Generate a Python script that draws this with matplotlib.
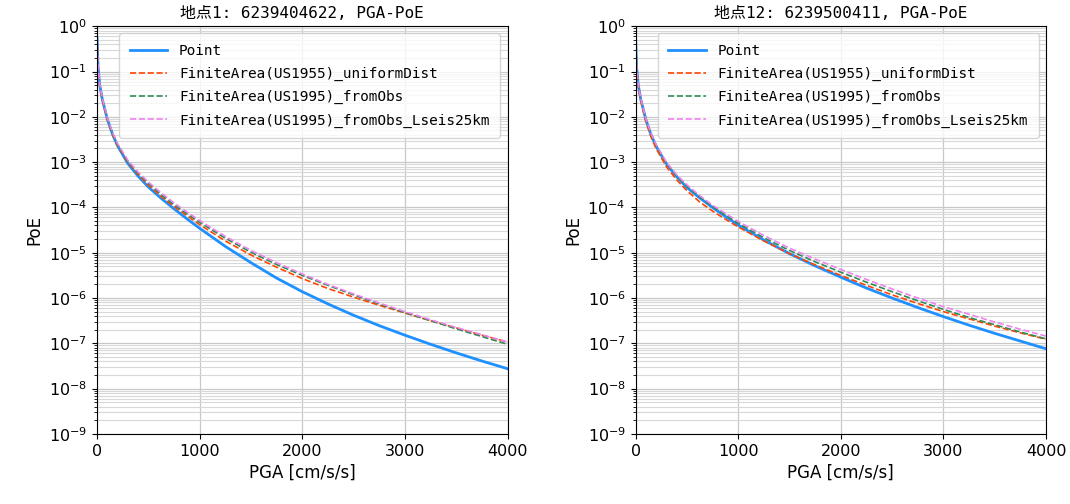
import numpy as np
import matplotlib
matplotlib.use("Agg")
import matplotlib.pyplot as plt
from matplotlib.ticker import LogLocator, NullFormatter

# PGA grid [cm/s/s] the curves were read at
pga = [0, 10, 25, 50, 100, 150, 200, 300, 400, 500, 625, 750, 875, 1000, 1250, 1500,
       1750, 2000, 2250, 2500, 2750, 3000, 3250, 3500, 3750, 4000]

# log10(PoE)
# site 1
point_1 = [-0.26, -0.9, -1.28, -1.6, -2.05, -2.38, -2.64, -3.03, -3.31, -3.55, -3.80, -4.03, -4.25,
           -4.46, -4.86, -5.22, -5.56, -5.86, -6.13, -6.38, -6.61, -6.82, -7.02, -7.21, -7.39, -7.56]
us1955_1 = [-0.26, -0.9, -1.29, -1.62, -2.06, -2.39, -2.64, -3.01, -3.28, -3.51, -3.76, -3.98, -4.18,
            -4.38, -4.74, -5.05, -5.32, -5.57, -5.79, -5.98, -6.16, -6.33, -6.50, -6.66, -6.82, -6.97]
us1995_1 = [-0.26, -0.89, -1.27, -1.6, -2.04, -2.37, -2.62, -2.99, -3.25, -3.47, -3.72, -3.94, -4.14,
            -4.33, -4.68, -4.99, -5.26, -5.5, -5.72, -5.93, -6.13, -6.32, -6.50, -6.68, -6.85, -7.02]
us1995_25_1 = [-0.25, -0.87, -1.26, -1.58, -2.02, -2.34, -2.59, -2.96, -3.22, -3.44, -3.68, -3.9, -4.1,
               -4.29, -4.64, -4.95, -5.22, -5.47, -5.7, -5.91, -6.11, -6.3, -6.48, -6.65, -6.81, -6.97]

# site 12
point_12 = [-0.26, -0.9, -1.28, -1.61, -2.06, -2.39, -2.65, -3.04, -3.32, -3.56, -3.79, -4.0, -4.2,
            -4.39, -4.72, -5.02, -5.29, -5.54, -5.78, -6.0, -6.21, -6.41, -6.6, -6.78, -6.95, -7.12]
us1955_12 = [-0.27, -0.93, -1.31, -1.64, -2.1, -2.44, -2.7, -3.1, -3.39, -3.63, -3.88, -4.08, -4.26,
             -4.43, -4.74, -5.02, -5.27, -5.5, -5.72, -5.93, -6.12, -6.3, -6.46, -6.62, -6.77, -6.91]
us1995_12 = [-0.26, -0.9, -1.28, -1.6, -2.05, -2.38, -2.63, -3.02, -3.3, -3.53, -3.77, -3.98, -4.17,
             -4.35, -4.67, -4.95, -5.2, -5.43, -5.65, -5.86, -6.06, -6.25, -6.43, -6.59, -6.75, -6.9]
us1995_25_12 = [-0.25, -0.88, -1.27, -1.59, -2.04, -2.36, -2.61, -3.0, -3.28, -3.5, -3.74, -3.95, -4.13,
                -4.31, -4.62, -4.9, -5.14, -5.37, -5.59, -5.8, -6.0, -6.19, -6.36, -6.53, -6.69, -6.84]

titles = ["地点1: 6239404622, PGA-PoE", "地点12: 6239500411, PGA-PoE"]
labels = ["Point", "FiniteArea(US1955)_uniformDist", "FiniteArea(US1995)_fromObs",
          "FiniteArea(US1995)_fromObs_Lseis25km"]
sites = [[point_1, us1955_1, us1995_1, us1995_25_1],
         [point_12, us1955_12, us1995_12, us1995_25_12]]

colors = ["dodgerblue", "orangered", "seagreen", "violet"]
styles = ["-", "--", "--", "--"]
widths = [2.0, 1.2, 1.2, 1.2]

mono_cjk = ["DejaVu Sans Mono", "Noto Sans CJK JP"]

fig, axes = plt.subplots(1, 2, figsize=(10.7, 5.04), dpi=100)
fig.subplots_adjust(left=0.0907, right=0.9776, bottom=0.139, top=0.948, wspace=0.312)

for ax, title, curves in zip(axes, titles, sites):
    for logp, lab, c, ls, lw in zip(curves, labels, colors, styles, widths):
        ax.plot(pga, 10.0 ** np.array(logp), color=c, linestyle=ls, linewidth=lw, label=lab)
    ax.set_yscale("log")
    ax.set_ylim(1e-9, 1)
    ax.set_xlim(0, 4000)
    ax.set_xticks([0, 1000, 2000, 3000, 4000])
    ax.yaxis.set_major_locator(LogLocator(base=10, numticks=20))
    ax.yaxis.set_minor_locator(LogLocator(base=10, subs=np.arange(2, 10), numticks=100))
    ax.yaxis.set_minor_formatter(NullFormatter())
    ax.tick_params(labelsize=11.5)
    ax.grid(True, which="major", color="#c8c8c8", linewidth=0.9)
    ax.grid(True, which="minor", axis="y", color="#d8d8d8", linewidth=0.8)
    ax.set_xlabel("PGA [cm/s/s]", fontsize=12)
    ax.set_ylabel("PoE", fontsize=12)
    ax.set_title(title, fontsize=11.5, family=mono_cjk)
    ax.legend(loc="upper right", prop={"family": "DejaVu Sans Mono", "size": 10.4},
              labelspacing=0.62, handlelength=2.6, handletextpad=0.8, borderpad=0.75)

fig.savefig("out.png", dpi=100)
